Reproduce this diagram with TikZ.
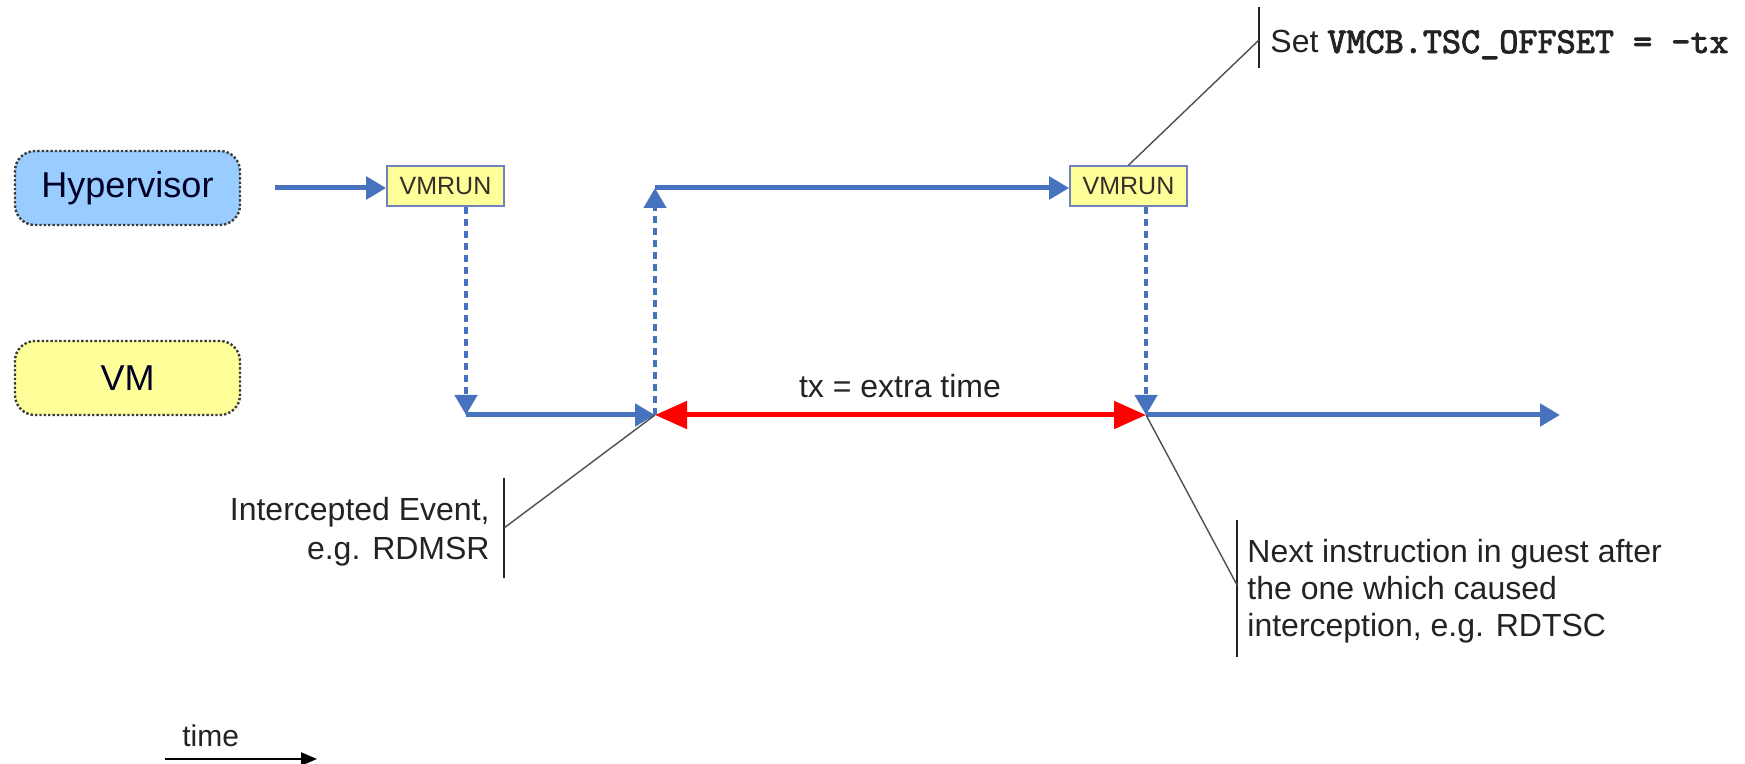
\documentclass[tikz,border=0pt]{standalone}
\usepackage{fontspec}
\setmainfont{Liberation Sans}
\newfontfamily\codefont[FakeBold=2.5]{lmmono10-regular.otf}
\usetikzlibrary{arrows.meta}

\definecolor{flowblue}{RGB}{70,114,190}
\definecolor{hypfill}{RGB}{153,204,255}
\definecolor{vmfill}{RGB}{255,255,153}
\definecolor{runborder}{RGB}{110,130,190}
\definecolor{boxline}{RGB}{60,60,60}
\definecolor{labeltext}{RGB}{35,35,35}

\tikzset{
  lane/.style={rounded corners=10pt, draw=boxline, densely dotted, line width=1.2pt,
    minimum width=112.5pt, minimum height=37pt, inner sep=0pt,
    font=\fontsize{18}{21}\selectfont, text=black!85!blue},
  runbox/.style={fill=vmfill, draw=runborder, line width=0.8pt,
    minimum width=58.5pt, minimum height=20pt, inner sep=0pt,
    font=\fontsize{12.5}{14}\selectfont, text=black!85!olive},
  flow/.style={draw=flowblue, line width=2.5pt,
    -{Triangle[length=10pt,width=11pt]}},
  flowdash/.style={flow, dash pattern=on 3.5pt off 2.5pt, line width=2.2pt},
  span/.style={draw=red, line width=2.5pt,
    {Triangle[length=16pt,width=13.5pt]}-{Triangle[length=16pt,width=13.5pt]}},
  label/.style={font=\fontsize{16}{19}\selectfont, text=labeltext, inner sep=0pt},
  bar/.style={draw=labeltext, line width=1pt},
  leader/.style={draw=labeltext!80, line width=0.7pt},
}

\begin{document}
\begin{tikzpicture}[x=0.5pt, y=-0.5pt]
  \fill[white] (0,0) rectangle (1745,764);
  \useasboundingbox (0,0) rectangle (1745,764);

  % swim lanes
  \node[lane, fill=hypfill] (hyp) at (127.5,188) {Hypervisor};
  \node[lane, fill=vmfill] (vm) at (127.5,378) {VM};

  % VMRUN instructions
  \node[runbox] (run1) at (445.5,186) {VMRUN};
  \node[runbox] (run2) at (1128.5,186) {VMRUN};

  % key points of the control flow
  \coordinate (hstart) at (275,188);
  \coordinate (d1) at (466,415);
  \coordinate (e1) at (655,415);
  \coordinate (u1) at (655,188);
  \coordinate (d2) at (1146,415);
  \coordinate (vend) at (1560,415);

  % control flow
  \draw[flow] (hstart) -- (hstart -| run1.west);
  \draw[flowdash] (d1 |- run1.south) -- (d1);
  \draw[flow] (d1) -- (e1);
  \draw[flowdash] (e1) -- (u1);
  \draw[flow] (u1) -- (u1 -| run2.west);
  \draw[flowdash] (d2 |- run2.south) -- (d2);
  \draw[flow] (d2) -- (vend);

  % extra time spent in the hypervisor
  \draw[span] (e1) -- (d2);
  \node[label, anchor=base] (tx) at (900,398) {tx = extra time};

  % callout: intercepted event
  \coordinate (b1top) at (504,478);
  \coordinate (b1bot) at (504,578);
  \coordinate (b1mid) at (504,528);
  \draw[bar] (b1top) -- (b1bot);
  \draw[leader] (b1mid) -- (e1);
  \node[label, anchor=base east] (ev1) at (490,520) {Intercepted Event,};
  \node[label, anchor=base east] (ev2) at (490,559) {e.g. RDMSR};

  % callout: next guest instruction
  \coordinate (b2top) at (1237,520);
  \coordinate (b2bot) at (1237,657);
  \coordinate (b2mid) at (1237,585);
  \draw[bar] (b2top) -- (b2bot);
  \draw[leader] (b2mid) -- (d2);
  \node[label, anchor=base west] (nx1) at (1247,562) {Next instruction in guest after};
  \node[label, anchor=base west] (nx2) at (1247,599) {the one which caused};
  \node[label, anchor=base west] (nx3) at (1247,636) {interception, e.g. RDTSC};

  % callout: TSC offset
  \coordinate (b3top) at (1259,7);
  \coordinate (b3bot) at (1259,68);
  \coordinate (b3mid) at (1259,40);
  \draw[bar] (b3top) -- (b3bot);
  \draw[leader] (b3mid) -- (run2.north);
  \node[label, anchor=base west] (tsc) at (1270,53)
    {Set {\codefont\fontsize{18.2}{20}\selectfont VMCB.TSC\_OFFSET = -tx}};

  % time axis
  \coordinate (t0) at (165,759);
  \coordinate (t1) at (317,759);
  \draw[black, line width=1.2pt, -{Triangle[length=8pt,width=6.5pt]}] (t0) -- (t1);
  \node[label, anchor=base west, font=\fontsize{15}{18}\selectfont] (time) at (182,746) {time};
\end{tikzpicture}
\end{document}
